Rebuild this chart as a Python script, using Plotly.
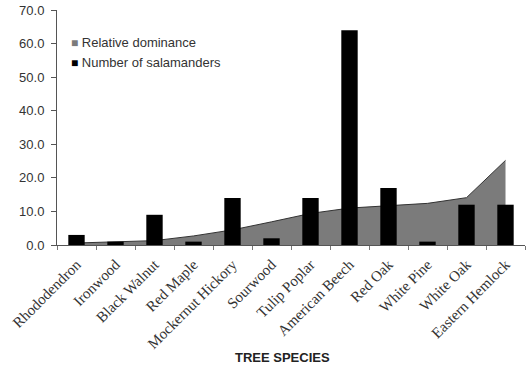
import plotly.graph_objects as go

species = ["Rhododendron", "Ironwood", "Black Walnut", "Red Maple", "Mockernut Hickory",
           "Sourwood", "Tulip Poplar", "American Beech", "Red Oak", "White Pine",
           "White Oak", "Eastern Hemlock"]
relative_dominance = [0.6, 1.0, 1.3, 2.7, 4.5, 6.9, 9.4, 11.0, 11.7, 12.4, 14.1, 25.2]
salamanders = [3, 1, 9, 1, 14, 2, 14, 64, 17, 1, 12, 12]
y_ticks = [0, 10, 20, 30, 40, 50, 60, 70]

AREA_COLOR = "#7b7b7b"
BAR_COLOR = "#000000"

fig = go.Figure()

# Shaded area for relative dominance (drawn underneath)
fig.add_trace(go.Scatter(
    x=species, y=relative_dominance, name="Relative dominance",
    mode="lines", fill="tozeroy", fillcolor=AREA_COLOR,
    line=dict(color="#333333", width=1),
    xaxis="x", yaxis="y", showlegend=False,
))

# Salamander counts as bars on an overlaid axis so they sit on top of the area
fig.add_trace(go.Bar(
    x=species, y=salamanders, name="Number of salamanders",
    marker=dict(color=BAR_COLOR, line=dict(width=0)), width=0.42,
    xaxis="x2", yaxis="y", showlegend=False,
))

# Compact key in the upper-left corner of the plot
key_entries = [("Relative dominance", AREA_COLOR, 0.8596),
               ("Number of salamanders", BAR_COLOR, 0.7745)]
annotations = []
for label, color, ypos in key_entries:
    annotations.append(dict(
        text=f"<span style='color:{color};font-size:12px'>■</span> {label}",
        x=0.0256, y=ypos, xref="paper", yref="paper",
        xanchor="left", yanchor="middle", showarrow=False,
        font=dict(size=13, color="#333333"),
    ))

annotations.append(dict(
    text="<b>TREE SPECIES</b>", x=0.481, y=-0.477, xref="paper", yref="paper",
    xanchor="center", yanchor="middle", showarrow=False,
    font=dict(size=13, color="#222222"),
))

fig.update_layout(
    width=527, height=367,
    margin=dict(l=57, r=2, t=10, b=122),
    paper_bgcolor="white", plot_bgcolor="white",
    font=dict(family="Liberation Sans, Arial, sans-serif", color="#333333", size=13),
    showlegend=False,
    xaxis=dict(
        type="category", categoryorder="array", categoryarray=species,
        range=[-0.5, 11.5], showline=True, linecolor="#555555", linewidth=1,
        ticks="outside", ticklen=4, tickcolor="#777777", tickson="boundaries",
        tickangle=-45, showgrid=False, zeroline=False, ticklabelstandoff=4,
        tickfont=dict(family="Liberation Serif, Times New Roman, serif", size=15, color="#333333"),
    ),
    xaxis2=dict(
        type="category", categoryorder="array", categoryarray=species,
        range=[-0.5, 11.5], overlaying="x", visible=False,
    ),
    yaxis=dict(
        range=[0, 70], tickvals=y_ticks, tickformat=".1f",
        showline=True, linecolor="#555555", linewidth=1,
        ticks="outside", ticklen=5, tickcolor="#555555",
        showgrid=False, zeroline=False, ticklabelstandoff=4,
        tickfont=dict(size=13, color="#333333"),
    ),
    annotations=annotations,
)

fig.write_html("out.html")
